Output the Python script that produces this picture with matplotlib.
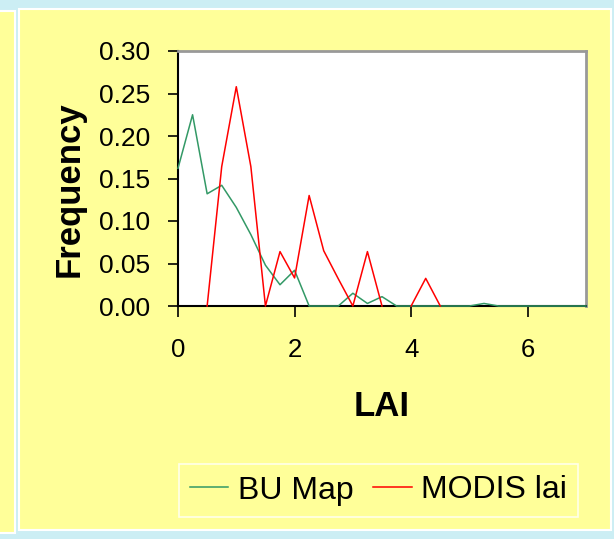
import numpy as np
import matplotlib
matplotlib.use("Agg")
import matplotlib.pyplot as plt
from matplotlib.patches import Rectangle
from matplotlib.lines import Line2D

# ---- data ----
lai_bins = [0, 0.25, 0.5, 0.75, 1.0, 1.25, 1.5, 1.75, 2.0, 2.25, 2.5, 2.75, 3.0, 3.25,
            3.5, 3.75, 4.0, 4.25, 4.5, 4.75, 5.0, 5.25, 5.5, 5.75, 6.0, 6.25, 6.5, 6.75, 7.0]
bu_map = [0.162, 0.225, 0.132, 0.142, 0.116, 0.084, 0.048, 0.025, 0.042, 0.0, 0.0, 0.0, 0.015, 0.003,
          0.011, 0.0, 0.0, 0.0, 0.0, 0.0, 0.0, 0.003, 0.0, 0.0, 0.0, 0.0, 0.0, 0.0, 0.0]
nan = float("nan")
modis_lai = [nan, nan, 0.0, 0.164, 0.258, 0.164, 0.0, 0.064, 0.033, 0.130, 0.065, 0.032, 0.0, 0.064,
             0.0, nan, 0.0, 0.0325, 0.0, nan, nan, nan, nan, nan, nan, nan, nan, nan, nan]
y_ticks = [0.00, 0.05, 0.10, 0.15, 0.20, 0.25, 0.30]
x_ticks = [0, 2, 4, 6]
series_names = ["BU Map", "MODIS lai"]

W, H = 614, 539
BLUE = "#CCEEF4"
YELLOW = "#FFFF99"
GREEN = "#339966"
RED = "#FF0000"
FONT = ["Liberation Sans", "DejaVu Sans"]
plt.rcParams["font.family"] = FONT

fig = plt.figure(figsize=(W / 100, H / 100), dpi=100, facecolor=BLUE)


def px_rect(x0, y0, x1, y1, **kw):
    return Rectangle((x0 / W, 1 - y1 / H), (x1 - x0) / W, (y1 - y0) / H,
                     transform=fig.transFigure, zorder=-10, **kw)


fig.add_artist(px_rect(-5, 11, 15, 533, facecolor=YELLOW, edgecolor="white", lw=1.5))
fig.add_artist(px_rect(19, 9, 611, 530, facecolor=YELLOW, edgecolor="white", lw=1.5))

L, R, T, B = 178, 586, 51, 306
ax = fig.add_axes([L / W, 1 - B / H, (R - L) / W, (B - T) / H], facecolor="white")

ax.plot(lai_bins, bu_map, color=GREEN, lw=1.1, label=series_names[0], clip_on=False, zorder=3)
ax.plot(lai_bins, modis_lai, color=RED, lw=1.1, label=series_names[1], clip_on=False, zorder=4)

ax.set_xlim(0, 7)
ax.set_ylim(0, 0.30)
ax.set_yticks(y_ticks)
ax.set_yticklabels([f"{v:.2f}" for v in y_ticks])
ax.set_xticks(x_ticks)
ax.set_xticklabels([str(v) for v in x_ticks])
ax.tick_params(axis="y", direction="out", length=7, width=1.2, pad=13, labelsize=19, colors="black")
ax.tick_params(axis="x", direction="out", length=8, width=1.2, pad=15, labelsize=18.5, colors="black")

for s in ["top", "right"]:
    ax.spines[s].set_color("#999999")
    ax.spines[s].set_linewidth(2)
for s in ["left", "bottom"]:
    ax.spines[s].set_color("black")
    ax.spines[s].set_linewidth(1.5)

fig.text(69 / W, 1 - 189 / H, "Frequency", rotation=90, ha="center", va="center",
         fontsize=25, fontweight="bold")
fig.text(382 / W, 1 - 407 / H, "LAI", ha="center", va="center", fontsize=25, fontweight="bold")

handles = [Line2D([], [], color=GREEN, lw=1.1), Line2D([], [], color=RED, lw=1.1)]
leg = fig.legend(handles, series_names, loc="center",
                 bbox_to_anchor=((175 + 582) / 2 / W, 1 - 490.5 / H),
                 ncol=2, frameon=True, fancybox=False, facecolor=YELLOW, edgecolor="white",
                 fontsize=23, handlelength=1.2, handletextpad=0.3, columnspacing=0.62,
                 borderpad=0.35, borderaxespad=0)
leg.get_frame().set_linewidth(1.2)

fig.savefig("out.png", dpi=100, facecolor=BLUE)
